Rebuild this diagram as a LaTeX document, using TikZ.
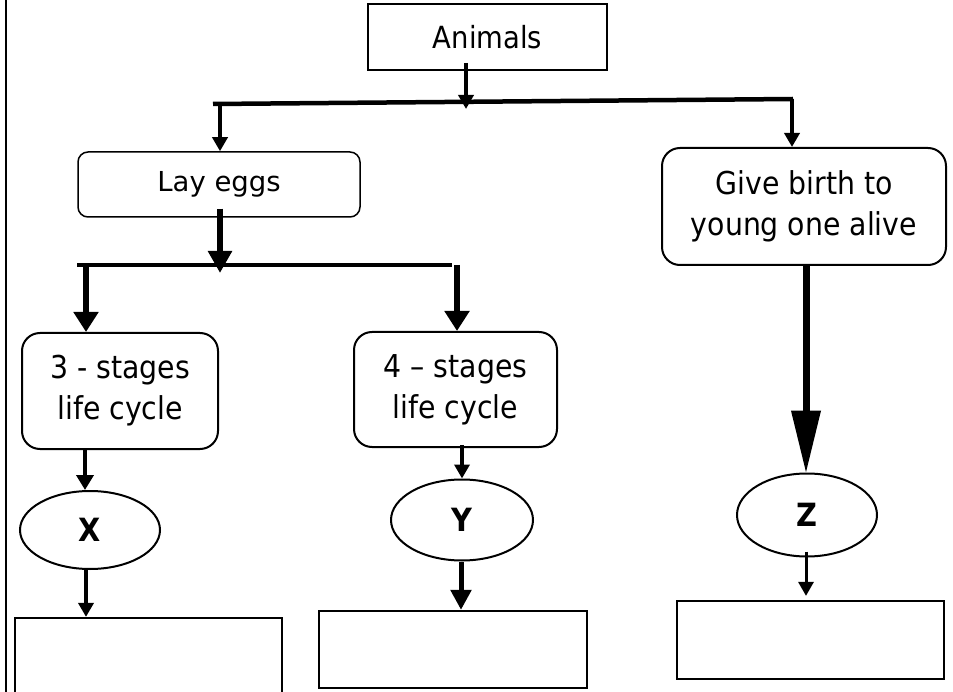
\documentclass[tikz,border=0pt]{standalone}
\usepackage{fontspec}
\setmainfont{DejaVu Sans Condensed}
\newfontfamily\verd{DejaVu Sans}
\usetikzlibrary{arrows.meta,shapes.geometric}
\begin{document}
\begin{tikzpicture}[x=1pt,y=-1pt,
  sqbox/.style={draw, line width=2.2pt, rectangle, inner sep=0pt},
  rbox/.style={draw, line width=2pt, rounded corners=18pt, inner sep=0pt, align=center,
    font=\fontsize{31.5}{41}\selectfont},
  oval/.style={draw, ellipse, line width=2pt, inner sep=0pt,
    font=\bfseries\fontsize{32}{36}\selectfont},
  barline/.style={line width=4.5pt},
  arrthin/.style={line width=4pt, -{Triangle[length=14pt,width=15pt]}},
  arrslim/.style={line width=3pt, -{Triangle[length=14pt,width=15pt]}},
  arrmid/.style={line width=5pt, -{Triangle[length=20pt,width=20pt]}},
  arrthick/.style={line width=5.5pt, -{Triangle[length=20pt,width=24pt]}},
  arrhuge/.style={line width=7pt, -{Triangle[length=63pt,width=28pt]}}
]
\useasboundingbox (0,0) rectangle (953,692);
% left border
\draw[line width=2pt] (6,0) -- (6,692);

% nodes
\node[sqbox, minimum width=239pt, minimum height=66pt, font=\fontsize{30.5}{36}\selectfont] (animals) at (487.5,37) {Animals};
\node[draw, line width=1.5pt, rounded corners=10pt, inner sep=0pt, minimum width=282pt, minimum height=65pt,
  font=\verd\fontsize{27.5}{33}\selectfont] (layeggs) at (219,184.5) {Lay eggs};
\node[rbox, minimum width=284pt, minimum height=117pt] (birth) at (804,206.5) {Give birth to\\young one alive};
\node[rbox, minimum width=196pt, minimum height=116pt] (three) at (120,391) {3 - stages\\life cycle};
\node[rbox, minimum width=203pt, minimum height=115pt] (four) at (455.5,389.5) {4 -- stages\\life cycle};
\node[oval, minimum width=140pt, minimum height=78pt] (X) at (90,530) {X};
\node[oval, minimum width=142pt, minimum height=81pt] (Y) at (462,520) {Y};
\node[oval, minimum width=140pt, minimum height=83pt] (Z) at (807,515) {Z};
\node[sqbox, minimum width=267pt, minimum height=84pt] (bl) at (148.5,660) {};
\node[sqbox, minimum width=268pt, minimum height=77pt] (bm) at (453,649.5) {};
\node[sqbox, minimum width=267pt, minimum height=78pt] (br) at (810.5,640) {};

% first bar
\coordinate (b1L) at (213,104);
\coordinate (b1R) at (793,99);
\draw[barline] (b1L) -- (b1R);
\coordinate (t1) at (466,109);
\draw[arrthin] (466,63) -- (t1);
\coordinate (d1) at (220,104);
\draw[arrthin] (d1) -- (d1 |- layeggs.north);
\coordinate (d2) at (792,99);
\draw[arrthin] (d2) -- (d2 |- birth.north);

% second bar
\coordinate (b2L) at (77,265);
\coordinate (b2R) at (452,265);
\draw[barline] (b2L) -- (b2R);
\coordinate (t2) at (220,273);
\draw[arrthick, line width=6pt, -{Triangle[length=22pt,width=23pt]}] ([yshift=9pt]layeggs.south -| t2) -- (t2);
\coordinate (d3) at (86,265);
\draw[arrthick] (d3) -- (d3 |- three.north);
\coordinate (d4) at (457,265);
\draw[arrthick] (d4) -- (d4 |- four.north);

% lower arrows
\coordinate (c3) at (85,0);
\draw[arrthin, -{Triangle[length=15pt,width=17pt]}] (c3 |- three.south) -- (c3 |- X.north);
\coordinate (cx) at (86,0);
\draw[arrthin, line width=4.5pt] (cx |- X.south) -- (cx |- bl.north);
\coordinate (c4) at (462,0);
\draw[arrslim, line width=3.5pt] ([yshift=3pt]four.south -| c4) -- (c4 |- Y.north);
\coordinate (cy) at (461,0);
\draw[arrmid] (cy |- Y.south) -- (cy |- bm.north);
\coordinate (cb) at (806,0);
\draw[arrhuge] (cb |- birth.south) -- ([yshift=-1pt]cb |- Z.north);
\draw[arrslim] ([yshift=6pt]Z.south -| cb) -- ([yshift=4pt]cb |- br.north);
\end{tikzpicture}
\end{document}
